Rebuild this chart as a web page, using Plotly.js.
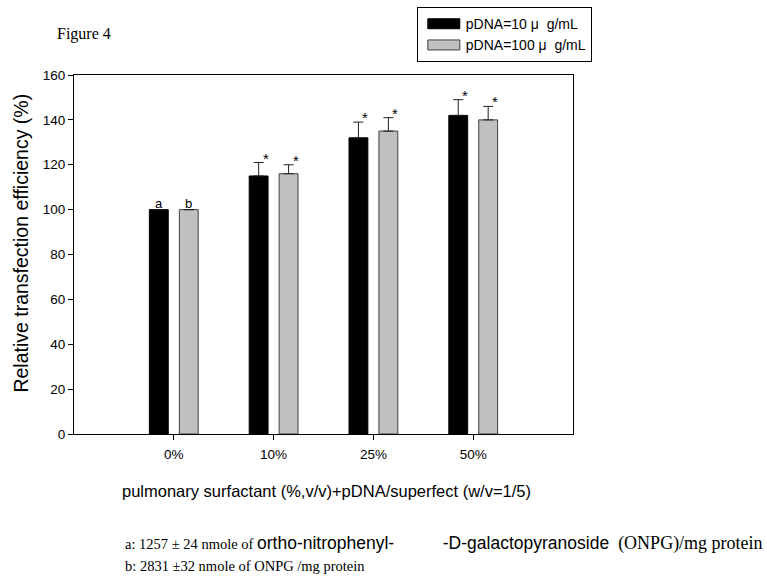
<!DOCTYPE html>
<html>
<head>
<meta charset="utf-8">
<script src="https://cdn.plot.ly/plotly-3.0.1.min.js"></script>
<style>html,body{margin:0;padding:0;background:#fff;}</style>
</head>
<body>
<div id="chart" style="width:767px;height:580px;"></div>
<script>
const categories = ['0%', '10%', '25%', '50%'];
const seriesNames = ['pDNA=10 \u03bc\u00a0\u00a0g/mL', 'pDNA=100 \u03bc\u00a0\u00a0g/mL'];
const values10 = [100, 115, 132, 142];
const errors10 = [0, 6, 7, 7];
const values100 = [100, 116, 135, 140];
const errors100 = [0, 4, 6, 6];
const sig10 = ['a', '*', '*', '*'];
const sig100 = ['b', '*', '*', '*'];
const yTicks = [0, 20, 40, 60, 80, 100, 120, 140, 160];

const ARIAL = 'Liberation Sans, Arial, sans-serif';
const TIMES = 'Liberation Serif, Times New Roman, serif';

const traces = [
  {
    type: 'bar', name: seriesNames[0], x: categories, y: values10,
    marker: {color: '#000000', line: {color: '#000000', width: 1}},
    error_y: {type: 'data', symmetric: false, array: errors10, arrayminus: errors10.map(() => 0),
              color: '#202020', thickness: 1, width: 5, visible: true}
  },
  {
    type: 'bar', name: seriesNames[1], x: categories, y: values100,
    marker: {color: '#c0c0c0', line: {color: '#404040', width: 1}},
    error_y: {type: 'data', symmetric: false, array: errors100, arrayminus: errors100.map(() => 0),
              color: '#202020', thickness: 1, width: 5, visible: true}
  }
];

const annotations = [];
categories.forEach((c, i) => {
  const items = [[sig10[i], values10[i] + errors10[i], -15], [sig100[i], values100[i] + errors100[i], 15]];
  items.forEach(([t, top, off]) => {
    const isStar = t === '*';
    annotations.push({
      xref: 'x', yref: 'y', x: i, y: top, text: t, showarrow: false,
      xanchor: 'center', yanchor: 'bottom',
      xshift: off + (isStar ? 7 : 0), yshift: isStar ? -6 : -3,
      font: {family: ARIAL, size: isStar ? 15 : 13, color: '#000'}
    });
  });
});

annotations.push({
  xref: 'paper', yref: 'paper', x: -0.038, y: 1.114, xanchor: 'left', yanchor: 'middle',
  text: 'Figure 4', showarrow: false, font: {family: TIMES, size: 16, color: '#000'}
});
annotations.push({
  xref: 'paper', yref: 'paper', x: -0.107, y: 0.532, xanchor: 'center', yanchor: 'middle', textangle: -90,
  text: 'Relative transfection efficiency (%)', showarrow: false,
  font: {family: ARIAL, size: 19.5, color: '#000'}
});
annotations.push({
  xref: 'paper', yref: 'paper', x: 0.507, y: -0.159, xanchor: 'center', yanchor: 'middle',
  text: 'pulmonary surfactant (%,v/v)+pDNA/superfect (w/v=1/5)', showarrow: false,
  font: {family: ARIAL, size: 16.5, color: '#000'}
});
annotations.push({
  xref: 'paper', yref: 'paper', x: 0.098, y: -0.306, xanchor: 'left', yanchor: 'middle', align: 'left',
  text: 'a: 1257 \u00b1 24 nmole of <span style="font-family:Liberation Sans;font-size:17.5px">ortho-nitrophenyl-' +
        '\u00a0\u00a0\u00a0\u00a0\u00a0\u00a0\u00a0\u00a0\u00a0\u00a0-D-galactopyranoside</span>' +
        '<span style="font-size:18px">\u00a0\u00a0(ONPG)/mg protein</span>',
  showarrow: false, font: {family: TIMES, size: 14.5, color: '#000'}
});
annotations.push({
  xref: 'paper', yref: 'paper', x: 0.098, y: -0.368, xanchor: 'left', yanchor: 'middle', align: 'left',
  text: 'b: 2831 \u00b132 nmole of ONPG /mg protein',
  showarrow: false, font: {family: TIMES, size: 14.5, color: '#000'}
});

const layout = {
  width: 767, height: 580,
  margin: {l: 74, r: 194, t: 75, b: 146, pad: 0, autoexpand: false},
  paper_bgcolor: '#ffffff', plot_bgcolor: '#ffffff',
  font: {family: ARIAL, color: '#000'},
  barmode: 'group', bargap: 0.4, bargroupgap: 0.37,
  showlegend: true,
  legend: {x: 0.687, y: 1.189, xanchor: 'left', yanchor: 'top', bordercolor: '#000', borderwidth: 1,
           bgcolor: '#fff', font: {family: ARIAL, size: 14, color: '#000'}, tracegroupgap: 0,
           itemwidth: 38},
  xaxis: {
    type: 'category', range: [-1, 4], showline: true, linecolor: '#000', linewidth: 1, mirror: true,
    ticks: 'outside', ticklen: 5, tickcolor: '#000', showgrid: false, zeroline: false,
    ticklabelstandoff: 3,
    tickfont: {family: ARIAL, size: 13.5, color: '#000'}, fixedrange: true
  },
  yaxis: {
    range: [0, 160], tickvals: yTicks, ticktext: yTicks.map(String),
    showline: true, linecolor: '#000', linewidth: 1, mirror: true,
    ticks: 'outside', ticklen: 5, tickcolor: '#000', showgrid: false, zeroline: false,
    tickfont: {family: ARIAL, size: 13.5, color: '#000'},
    automargin: false
  },
  annotations: annotations
};

Plotly.newPlot('chart', traces, layout, {displayModeBar: false, staticPlot: true}).then(gd => {
  gd.querySelectorAll('.legendpoints path').forEach(p => {
    p.setAttribute('d', 'M18,5H-14V-5H18Z');
  });
});
</script>
</body>
</html>
